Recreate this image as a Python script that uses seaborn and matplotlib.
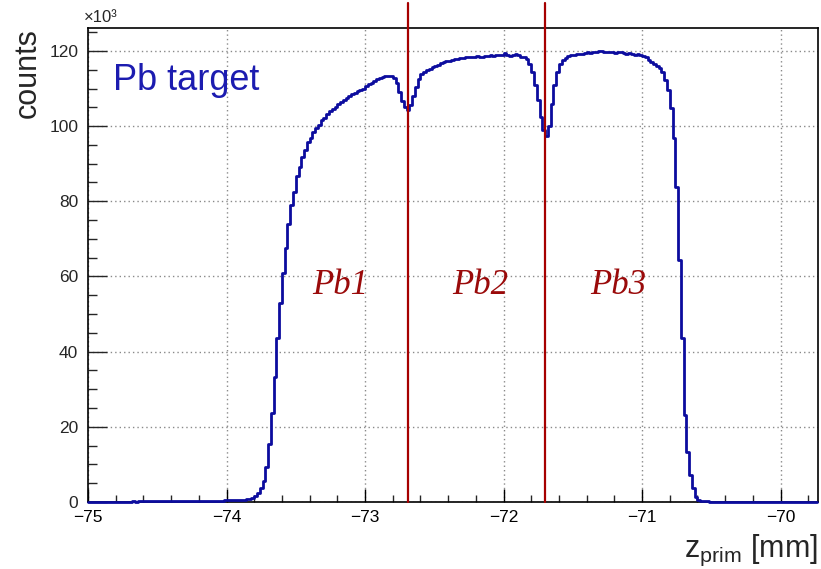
import numpy as np
import pandas as pd
import matplotlib
matplotlib.use("Agg")
import matplotlib.pyplot as plt
import seaborn as sns
from matplotlib.ticker import MultipleLocator

# ---------------- data (counts in units of 10^3 per 0.02 mm bin) ----------------
BIN_LO = -75.0
BIN_W = 0.02
counts = [
    0.05, 0.07, 0.06, 0.08, 0.06, 0.09, 0.07, 0.10, 0.08, 0.09,
    0.10, 0.12, 0.10, 0.13, 0.11, 0.12, 0.14, 0.13, 0.15, 0.14,
    0.16, 0.15, 0.18, 0.16, 0.19, 0.17, 0.20, 0.18, 0.21, 0.20,
    0.22, 0.21, 0.24, 0.22, 0.25, 0.24, 0.27, 0.26, 0.28, 0.30,
    0.29, 0.31, 0.33, 0.32, 0.35, 0.34, 0.37, 0.36, 0.39, 0.40,
    0.42, 0.44, 0.46, 0.50, 0.53, 0.58, 0.63, 0.70, 0.85, 1.10,
    1.7, 2.5, 3.6, 5.5, 9.4, 15.5, 23.7, 33.3, 43.6, 53.0,
    61.0, 67.5, 74.0, 79.0, 82.6, 86.6, 89.2, 91.9, 93.7, 95.9,
    96.9, 98.5, 99.5, 100.3, 101.6, 102.2, 103.2, 104.0, 104.6, 105.2,
    106.0, 106.4, 107.0, 107.4, 108.0, 108.5, 108.9, 109.3, 109.6, 110.0,
    110.8, 111.2, 111.6, 111.9, 112.4, 112.7, 113.0, 113.2, 113.4, 113.2,
    112.8, 111.5, 109.2, 106.6, 105.2, 104.2, 105.5, 108.0, 110.5, 112.5,
    113.8, 114.5, 115.0, 115.3, 115.7, 116.0, 116.2, 116.7, 117.0, 117.2,
    117.3, 117.5, 117.8, 117.9, 118.1, 118.0, 118.3, 118.4, 118.3, 118.5,
    118.6, 118.4, 118.5, 118.7, 118.6, 118.8, 118.6, 118.9, 119.0, 118.8,
    119.4, 118.9, 118.7, 118.9, 119.1, 118.8, 118.5, 118.3, 117.8, 116.5,
    114.5, 111.0, 107.0, 102.5, 99.0, 97.5, 100.0, 106.0, 111.0, 114.5,
    116.5, 117.5, 118.0, 118.6, 118.9, 119.0, 119.2, 119.1, 119.3, 119.5,
    119.6, 119.4, 119.7, 119.8, 120.1, 119.9, 119.7, 119.8, 119.6, 119.8,
    119.5, 119.7, 119.6, 119.4, 119.3, 119.5, 119.2, 119.0, 119.1, 118.9,
    118.7, 118.3, 117.6, 117.0, 116.4, 115.9, 115.4, 114.3, 112.3, 109.6,
    104.8, 96.9, 83.9, 64.4, 43.6, 23.2, 13.4, 7.2, 3.7, 1.4,
    0.60, 0.30, 0.20, 0.15, 0.12, 0.10, 0.10, 0.08, 0.09, 0.07,
    0.08, 0.06, 0.07, 0.06, 0.05, 0.06, 0.05, 0.05, 0.04, 0.05,
    0.04, 0.05, 0.04, 0.04, 0.03, 0.04, 0.03, 0.04, 0.03, 0.03,
    0.03, 0.02, 0.03, 0.03, 0.02, 0.03, 0.02, 0.02, 0.03, 0.02,
    0.02, 0.02, 0.02,
]
boundaries = [-72.69, -71.70]              # target segment boundaries [mm]
region_labels = ["Pb1", "Pb2", "Pb3"]
region_label_x = [-73.18, -72.17, -71.17]
region_label_y = 57.5
x_ticks = [-75, -74, -73, -72, -71, -70]
y_ticks = [0, 20, 40, 60, 80, 100, 120]

# ---------------- style ----------------
sns.set_theme(style="white")
plt.rcParams["font.family"] = ["Liberation Sans", "DejaVu Sans"]
plt.rcParams["mathtext.fontset"] = "custom"
plt.rcParams["mathtext.rm"] = "Liberation Sans"
plt.rcParams["mathtext.it"] = "Liberation Sans:italic"

LINE = "#0c0c9e"
TEXT_BLUE = "#1c1cb0"
RED = "#a60000"

W, H = 821, 569
fig = plt.figure(figsize=(W / 100, H / 100), dpi=100)
L, R, T, B = 88, 818, 28, 502
ax = fig.add_axes([L / W, 1 - B / H, (R - L) / W, (B - T) / H])

edges = (BIN_LO + BIN_W * np.arange(len(counts) + 1)).tolist()
centers = [0.5 * (edges[k] + edges[k + 1]) for k in range(len(counts))]
df = pd.DataFrame({"z": centers, "counts": counts})

sns.histplot(data=df, x="z", weights="counts", bins=edges, element="step",
             fill=False, color=LINE, linewidth=2.0, ax=ax)
for ln in ax.lines:
    ln.set_clip_on(False)
    ln.set_zorder(3)

ax.set_xlim(-75.0, -69.73)
ax.set_ylim(0, 126.1)
ax.set_xlabel("")
ax.set_ylabel("")

ax.set_xticks(x_ticks)
ax.set_xticklabels([f"\u2212{abs(v)}" for v in x_ticks])
ax.set_yticks(y_ticks)
ax.set_yticklabels([str(v) for v in y_ticks])
ax.xaxis.set_minor_locator(MultipleLocator(0.2))
ax.yaxis.set_minor_locator(MultipleLocator(5))

ax.tick_params(axis="x", which="major", direction="in", length=9.5, width=1.0,
               labelsize=12.5, pad=6, colors="black", bottom=True, top=False)
ax.tick_params(axis="x", which="minor", direction="in", length=4.8, width=1.0,
               bottom=True, top=False)
ax.tick_params(axis="y", which="major", direction="in", length=13.5, width=1.0,
               labelsize=12.5, pad=7, left=True, right=False)
ax.tick_params(axis="y", which="minor", direction="in", length=6.8, width=1.0,
               left=True, right=False)

ax.grid(True, which="major", linestyle=(0, (1, 2.2)), color="#8a8a8a", linewidth=1.0)
ax.set_axisbelow(True)
for s in ax.spines.values():
    s.set_visible(True)
    s.set_color("black")
    s.set_linewidth(1.2)

# boundary lines extend above the frame
for b in boundaries:
    ax.axvline(b, ymin=0, ymax=(B - 3) / (B - T), color=RED, linewidth=1.6,
               clip_on=False, zorder=4)

for lab, lx in zip(region_labels, region_label_x):
    ax.text(lx, region_label_y, lab, family=["Liberation Serif", "DejaVu Serif"],
            style="italic", fontsize=25, color="#9a0a0a", ha="center", va="center")

ax.text((113 - L) / (R - L), (B - 81) / (B - T), "Pb target", transform=ax.transAxes,
        fontsize=26, color=TEXT_BLUE, ha="left", va="center")

fig.text(28 / W, 1 - 28 / H, "counts", rotation=90, fontsize=22,
         ha="center", va="top")
fig.text(R / W, 1 - 557 / H, r"z$_{\mathrm{prim}}$ [mm]", fontsize=22,
         ha="right", va="baseline")
fig.text(84 / W, 1 - 18 / H, "\u00d710\u00b3", fontsize=12, ha="left", va="center")

fig.savefig("out.png", dpi=100, facecolor="white")
